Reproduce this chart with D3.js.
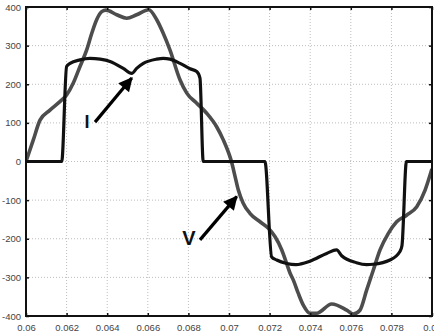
<!DOCTYPE html>
<html>
<head>
<meta charset="utf-8">
<script src="https://cdn.jsdelivr.net/npm/d3@7"></script>
<style>
  html, body { margin: 0; padding: 0; background: #fff; }
  svg { display: block; }
</style>
</head>
<body>
<svg id="chart" width="434" height="333"></svg>
<script>
// ---- Data ----
const xTicks = [0.06, 0.062, 0.064, 0.066, 0.068, 0.07, 0.072, 0.074, 0.076, 0.078, 0.08];
const xTickLabels = ["0.06", "0.062", "0.064", "0.066", "0.068", "0.07", "0.072", "0.074", "0.076", "0.078", "0.08"];
const yTicks = [-400, -300, -200, -100, 0, 100, 200, 300, 400];
const yTickLabels = ["-400", "-300", "-200", "-100", "0", "100", "200", "300", "400"];

// Voltage V (grey curve)
const timeV = [
  0.0600, 0.06036, 0.06069, 0.06118, 0.06167, 0.06200, 0.06233, 0.06266, 0.06299, 0.06324,
  0.06348, 0.06373, 0.06394, 0.06447, 0.06496, 0.06545, 0.06605, 0.06644, 0.06676, 0.06709,
  0.06759, 0.06792, 0.06841, 0.06890, 0.06939, 0.06972, 0.07005, 0.07012, 0.07030, 0.07046,
  0.07070, 0.07103, 0.07153, 0.07194, 0.07227, 0.07260, 0.07284, 0.07300, 0.07317, 0.07341,
  0.07366, 0.07399, 0.07432, 0.07506, 0.07580, 0.07612, 0.07645, 0.07678, 0.07711, 0.07744,
  0.07785, 0.07826, 0.07875, 0.07925, 0.07966, 0.07998
];
const voltage = [
  0, 56, 107, 133, 155, 172, 203, 246, 289, 332,
  367, 388, 392, 380, 371, 380, 393, 367, 332, 289,
  211, 177, 151, 125, 90, 56, 12, 0, -39, -74,
  -108, -134, -156, -173, -195, -229, -264, -288, -307, -341,
  -372, -393, -393, -369, -385, -395, -385, -333, -281, -229,
  -186, -156, -139, -117, -74, -22
];

// Current I (black curve)
const timeI = [
  0.0600, 0.06176, 0.06200, 0.06217, 0.06266, 0.06315, 0.06365, 0.06414, 0.06479, 0.06521,
  0.06545, 0.06578, 0.06644, 0.06676, 0.06709, 0.06759, 0.06808, 0.06841, 0.06857, 0.06873,
  0.07177, 0.07210, 0.07235, 0.07284, 0.07330, 0.07399, 0.07481, 0.07530, 0.07555, 0.07628,
  0.07678, 0.07710, 0.07793, 0.07842, 0.07852, 0.07874, 0.0800
];
const current = [
  0, 0, 246, 254, 263, 267, 265, 259, 241, 228,
  241, 254, 265, 267, 265, 254, 240, 233, 216, 0,
  0, -247, -255, -264, -267, -258, -238, -229, -244, -262,
  -267, -266, -255, -233, -218, 0, 0
];

// Annotations (data coordinates)
const annotations = [
  { label: "I", lx: 0.06300, ly: 102, x1: 0.06340, y1: 102, x2: 0.06521, y2: 216, size: 18 },
  { label: "V", lx: 0.06803, ly: -197, x1: 0.06857, y1: -203, x2: 0.07038, y2: -91, size: 20 }
];

(function () {
// ---- Layout ----
const svg = d3.select("#chart");
const mLeft = 26, mRight = 432, mTop = 7, mBottom = 316;

const x = d3.scaleLinear().domain([0.06, 0.08]).range([mLeft, mRight]);
const y = d3.scaleLinear().domain([-400, 400]).range([mBottom, mTop]);

// grid
const grid = svg.append("g");
grid.selectAll("line.gx").data(xTicks.slice(1, -1)).join("line")
  .attr("x1", d => x(d)).attr("x2", d => x(d))
  .attr("y1", mTop).attr("y2", mBottom)
  .attr("stroke", "#bdbdbd").attr("stroke-width", 1)
  .attr("stroke-dasharray", "1,2");
grid.selectAll("line.gy").data(yTicks.slice(1, -1)).join("line")
  .attr("y1", d => y(d)).attr("y2", d => y(d))
  .attr("x1", mLeft).attr("x2", mRight)
  .attr("stroke", "#bdbdbd").attr("stroke-width", 1)
  .attr("stroke-dasharray", "1,2");

// clip
svg.append("clipPath").attr("id", "clip").append("rect")
  .attr("x", mLeft).attr("y", mTop - 3).attr("width", mRight - mLeft).attr("height", mBottom - mTop + 6);

const plot = svg.append("g").attr("clip-path", "url(#clip)");

const lineV = d3.line().x((d, i) => x(timeV[i])).y(d => y(d)).curve(d3.curveMonotoneX);
const lineI = d3.line().x((d, i) => x(timeI[i])).y(d => y(d)).curve(d3.curveMonotoneX);

plot.append("path").datum(voltage)
  .attr("d", lineV).attr("fill", "none")
  .attr("stroke", "#4d4d4d").attr("stroke-width", 3.6)
  .attr("stroke-linejoin", "round").attr("stroke-linecap", "round");

plot.append("path").datum(current)
  .attr("d", lineI).attr("fill", "none")
  .attr("stroke", "#111").attr("stroke-width", 3.2)
  .attr("stroke-linejoin", "round");

// axes (MATLAB style: inward ticks on all sides)
const xAxisB = d3.axisBottom(x).tickValues(xTicks).tickSize(-3).tickFormat((d, i) => xTickLabels[i]).tickPadding(8);
const xAxisT = d3.axisTop(x).tickValues(xTicks).tickSize(-3).tickFormat("");
const yAxisL = d3.axisLeft(y).tickValues(yTicks).tickSize(-3).tickFormat((d, i) => yTickLabels[i]).tickPadding(5);
const yAxisR = d3.axisRight(y).tickValues(yTicks).tickSize(-3).tickFormat("");

function styleAxis(g) {
  g.select(".domain").remove();
  g.selectAll(".tick line").attr("stroke", "#111").attr("stroke-width", 1.5);
  g.selectAll(".tick text").attr("fill", "#444").attr("font-family", "Liberation Sans, Arial, sans-serif").attr("font-size", 9.5);
}
svg.append("g").attr("transform", `translate(0,${mBottom})`).call(xAxisB).call(styleAxis);
svg.append("g").attr("transform", `translate(0,${mTop})`).call(xAxisT).call(styleAxis);
svg.append("g").attr("transform", `translate(${mLeft},0)`).call(yAxisL).call(styleAxis);
svg.append("g").attr("transform", `translate(${mRight},0)`).call(yAxisR).call(styleAxis);

// frame
svg.append("rect").attr("x", mLeft).attr("y", mTop).attr("width", mRight - mLeft).attr("height", mBottom - mTop)
  .attr("fill", "none").attr("stroke", "#111").attr("stroke-width", 2);

// arrows
svg.append("defs").append("marker")
  .attr("id", "arrow").attr("viewBox", "0 0 10 10").attr("refX", 9).attr("refY", 5)
  .attr("markerWidth", 5).attr("markerHeight", 4.4).attr("orient", "auto")
  .attr("markerUnits", "strokeWidth")
  .append("path").attr("d", "M0,0 L10,5 L0,10 Z").attr("fill", "#000");

const ann = svg.append("g");
annotations.forEach(a => {
  ann.append("line")
    .attr("x1", x(a.x1)).attr("y1", y(a.y1))
    .attr("x2", x(a.x2)).attr("y2", y(a.y2))
    .attr("stroke", "#000").attr("stroke-width", 3.2)
    .attr("marker-end", "url(#arrow)");
  ann.append("text")
    .attr("x", x(a.lx)).attr("y", y(a.ly))
    .attr("text-anchor", "middle").attr("dominant-baseline", "central")
    .attr("font-family", "Liberation Sans, Arial, sans-serif")
    .attr("font-weight", "bold").attr("font-size", a.size)
    .attr("fill", "#111").text(a.label);
});
})();
</script>
</body>
</html>
